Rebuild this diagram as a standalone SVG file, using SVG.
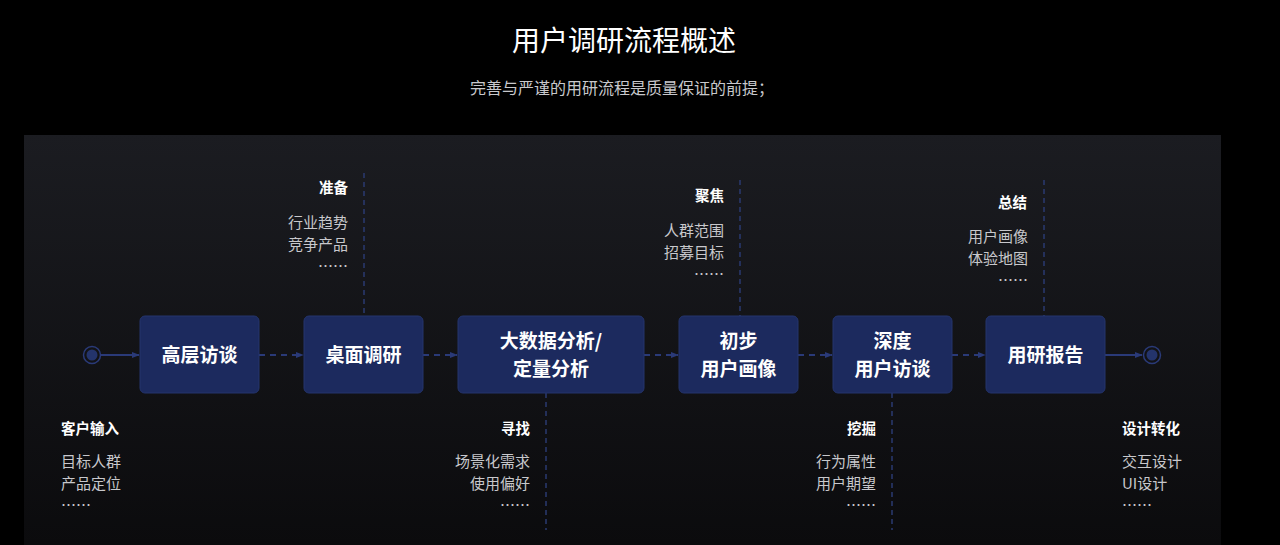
<svg xmlns="http://www.w3.org/2000/svg" width="1280" height="545" viewBox="0 0 1280 545">
<defs>
<linearGradient id="bg" x1="0" y1="0" x2="0" y2="1"><stop offset="0" stop-color="#1b1c21"/><stop offset="1" stop-color="#0b0b0d"/></linearGradient>
<marker id="ar" viewBox="0 0 10 10" refX="9" refY="5" markerWidth="8" markerHeight="8" orient="auto" markerUnits="userSpaceOnUse"><path d="M0,1 L10,5 L0,9 z" fill="#2a3a78"/></marker>
<style>
text{font-family:"Noto Sans CJK SC","Liberation Sans",sans-serif}
.node{fill:#1c2a5e;stroke:#24346c;stroke-width:1}
.nt{fill:#fff;font-size:19px;font-weight:bold;text-anchor:middle}
.h{fill:#fff;font-size:14.5px;font-weight:bold}
.b{fill:#c8c8cc;font-size:15px}
.vl{stroke:#2a3a70;stroke-width:1.5;stroke-dasharray:5 4}
.cd{stroke:#2a3a78;stroke-width:2;stroke-dasharray:6 5;fill:none}
.cs{stroke:#2a3a78;stroke-width:2;fill:none}
.r{text-anchor:end}
</style>
</defs>
<rect width="1280" height="545" fill="#000"/>
<text x="624" y="51" fill="#fff" font-size="28" text-anchor="middle">用户调研流程概述</text>
<text x="622" y="94" fill="#c8c8cc" font-size="16" text-anchor="middle">完善与严谨的用研流程是质量保证的前提；</text>
<rect x="24" y="135" width="1197" height="410" fill="url(#bg)"/>
<g id="guides">
<line class="vl" x1="364" y1="173" x2="364" y2="316"/>
<line class="vl" x1="546" y1="393" x2="546" y2="530"/>
<line class="vl" x1="740" y1="180" x2="740" y2="316"/>
<line class="vl" x1="892" y1="393" x2="892" y2="530"/>
<line class="vl" x1="1044" y1="180" x2="1044" y2="316"/>
</g>
<g id="connectors">
<line class="cs" x1="101" y1="355" x2="139" y2="355" marker-end="url(#ar)"/>
<line class="cd" x1="259" y1="355" x2="303" y2="355" marker-end="url(#ar)"/>
<line class="cd" x1="423" y1="355" x2="457" y2="355" marker-end="url(#ar)"/>
<line class="cd" x1="644" y1="355" x2="678" y2="355" marker-end="url(#ar)"/>
<line class="cd" x1="798" y1="355" x2="832" y2="355" marker-end="url(#ar)"/>
<line class="cd" x1="952" y1="355" x2="985" y2="355" marker-end="url(#ar)"/>
<line class="cs" x1="1105" y1="355" x2="1142" y2="355" marker-end="url(#ar)"/>
</g>
<g id="start"><circle cx="92" cy="355" r="8.5" fill="none" stroke="#2a3a78" stroke-width="1.5"/><circle cx="92" cy="355" r="5.5" fill="#24346c"/></g>
<g id="end"><circle cx="1152" cy="355" r="8.5" fill="none" stroke="#2a3a78" stroke-width="1.5"/><circle cx="1152" cy="355" r="5.5" fill="#24346c"/></g>
<g id="n1"><rect class="node" x="140" y="316" width="119" height="77" rx="5"/><text class="nt" x="199.5" y="362">高层访谈</text></g>
<g id="n2"><rect class="node" x="304" y="316" width="119" height="77" rx="5"/><text class="nt" x="363.5" y="362">桌面调研</text></g>
<g id="n3"><rect class="node" x="458" y="316" width="186" height="77" rx="5"/><text class="nt" x="551" y="348">大数据分析/</text><text class="nt" x="551" y="376">定量分析</text></g>
<g id="n4"><rect class="node" x="679" y="316" width="119" height="77" rx="5"/><text class="nt" x="738.5" y="348">初步</text><text class="nt" x="738.5" y="376">用户画像</text></g>
<g id="n5"><rect class="node" x="833" y="316" width="119" height="77" rx="5"/><text class="nt" x="892.5" y="348">深度</text><text class="nt" x="892.5" y="376">用户访谈</text></g>
<g id="n6"><rect class="node" x="986" y="316" width="119" height="77" rx="5"/><text class="nt" x="1045.5" y="362">用研报告</text></g>
<g id="labels">
<text class="h r" x="348" y="193">准备</text>
<text class="b r" x="348" y="228">行业趋势</text><text class="b r" x="348" y="250">竞争产品</text><text class="b r" x="348" y="272">……</text>
<text class="h r" x="724" y="201">聚焦</text>
<text class="b r" x="724" y="236">人群范围</text><text class="b r" x="724" y="258">招募目标</text><text class="b r" x="724" y="280">……</text>
<text class="h r" x="1027" y="208">总结</text>
<text class="b r" x="1028" y="242">用户画像</text><text class="b r" x="1028" y="264">体验地图</text><text class="b r" x="1028" y="286">……</text>
<text class="h" x="61" y="434">客户输入</text>
<text class="b" x="61" y="467">目标人群</text><text class="b" x="61" y="489">产品定位</text><text class="b" x="61" y="511">……</text>
<text class="h r" x="530" y="434">寻找</text>
<text class="b r" x="530" y="467">场景化需求</text><text class="b r" x="530" y="489">使用偏好</text><text class="b r" x="530" y="511">……</text>
<text class="h r" x="876" y="434">挖掘</text>
<text class="b r" x="876" y="467">行为属性</text><text class="b r" x="876" y="489">用户期望</text><text class="b r" x="876" y="511">……</text>
<text class="h" x="1122" y="434">设计转化</text>
<text class="b" x="1122" y="467">交互设计</text><text class="b" x="1122" y="489">UI设计</text><text class="b" x="1122" y="511">……</text>
</g>
</svg>
